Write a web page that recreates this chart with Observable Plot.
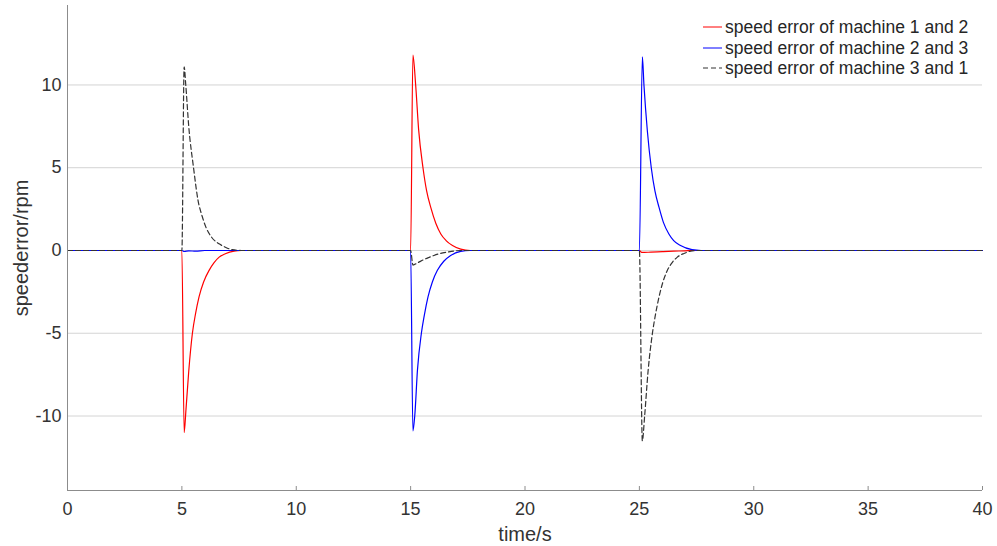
<!DOCTYPE html>
<html><head><meta charset="utf-8">
<script src="https://cdn.jsdelivr.net/npm/d3@7"></script>
<script src="https://cdn.jsdelivr.net/npm/@observablehq/plot@0.6"></script>
<style>
body{margin:0;background:#fff;}
#wrap{position:relative;width:997px;height:546px;font-family:"Liberation Sans",Arial,sans-serif;}
#legend{position:absolute;left:703px;top:17px;font-size:17.5px;line-height:20.5px;color:#262626;}
.row{display:flex;align-items:center;white-space:nowrap;height:20.5px;}
.row svg{margin-right:3px;flex:none;}
</style></head><body><div id="wrap"><div id="chart"></div><div id="legend"></div></div>
<script>
const seriesNames = ["speed error of machine 1 and 2", "speed error of machine 2 and 3", "speed error of machine 3 and 1"];
const seriesColors = ["#ff0000", "#0000ff", "#333333"];
const seriesDash = [null, null, "5,3"];

// machine 1 and 2
const t12 = [0, 5.0, 5.1, 5.18, 5.3, 5.46, 5.6, 5.75, 5.95, 6.19, 6.4, 6.63, 6.9, 7.28, 7.6,
  15.0, 15.1, 15.22, 15.35, 15.54, 15.7, 15.88, 16.1, 16.32, 16.55, 16.83, 17.19, 17.6,
  25.0, 25.1, 25.5, 26.0, 26.5, 27.0, 27.3, 40];
const v12 = [0, 0, -11.0, -9.6, -7.3, -5.0, -3.8, -2.8, -1.9, -1.2, -0.75, -0.4, -0.2, -0.04, 0,
  0, 11.8, 10.0, 7.3, 5.0, 3.6, 2.6, 1.65, 1.0, 0.6, 0.3, 0.08, 0,
  0, -0.12, -0.1, -0.07, -0.04, -0.02, 0, 0];

// machine 2 and 3
const t23 = [0, 5.0, 5.1, 5.3, 5.6, 6.0,
  15.0, 15.1, 15.18, 15.3, 15.47, 15.6, 15.76, 15.95, 16.17, 16.45, 16.75, 17.19, 17.6,
  25.0, 25.13, 25.2, 25.35, 25.52, 25.68, 25.86, 26.05, 26.29, 26.5, 26.8, 27.3, 27.7, 40];
const v23 = [0, 0, -0.06, -0.02, -0.04, 0,
  0, -10.9, -10.0, -7.2, -5.0, -3.9, -2.8, -1.9, -1.2, -0.65, -0.3, -0.05, 0,
  0, 11.7, 10.0, 7.2, 5.0, 3.6, 2.6, 1.7, 1.0, 0.6, 0.3, 0.05, 0, 0];

// machine 3 and 1
const t31 = [0, 5.0, 5.1, 5.17, 5.3, 5.51, 5.71, 5.88, 6.05, 6.3, 6.63, 6.9, 7.2, 7.6,
  15.0, 15.1, 15.3, 15.58, 15.8, 16.02, 16.3, 16.6, 17.2,
  25.0, 25.13, 25.23, 25.38, 25.57, 25.7, 25.86, 26.03, 26.22, 26.45, 26.66, 26.95, 27.24, 27.6, 40];
const v31 = [0, 0, 11.1, 10.0, 7.5, 5.0, 3.0, 2.1, 1.41, 0.8, 0.4, 0.2, 0.05, 0,
  0, -0.88, -0.75, -0.55, -0.42, -0.3, -0.18, -0.1, 0,
  0, -11.5, -10.0, -7.3, -5.0, -3.9, -2.8, -1.9, -1.21, -0.7, -0.4, -0.18, -0.04, 0, 0];

const xTicks = [0, 5, 10, 15, 20, 25, 30, 35, 40];
const yTicks = [-10, -5, 0, 5, 10];
const xDomain = [0, 40];
const yDomain = [-14.5, 14.8];
const xLabel = "time/s";
const yLabel = "speederror/rpm";

const toRows = (ts, vs, k) => ts.map((t, i) => ({t, v: vs[i], s: seriesNames[k]}));
const series = [toRows(t12, v12, 0), toRows(t23, v23, 1), toRows(t31, v31, 2)];

const textColor = "#333333";
const chart = Plot.plot({
  width: 997, height: 546,
  marginLeft: 67, marginRight: 15, marginTop: 5, marginBottom: 56,
  style: {fontFamily: '"Liberation Sans", Arial, sans-serif', background: "#fff", overflow: "visible"},
  x: {domain: xDomain},
  y: {domain: yDomain},
  marks: [
    Plot.ruleY(yTicks, {stroke: "#d4d4d4", strokeWidth: 1}),
    ...series.map((rows, k) => Plot.line(rows, {
      x: "t", y: "v", stroke: seriesColors[k], strokeWidth: 1.2,
      strokeDasharray: seriesDash[k], curve: "monotone-x"
    })),
    Plot.ruleX([xDomain[0]], {stroke: "#8c8c8c", strokeWidth: 1}),
    Plot.ruleY([yDomain[0]], {stroke: "#8c8c8c", strokeWidth: 1}),
    Plot.axisX(xTicks, {tickSize: 0, tickPadding: 12, fontSize: 18, fill: textColor, label: null, tickFormat: d => String(d)}),
    Plot.axisX(xTicks, {tickSize: 4, dy: -4, tickFormat: () => "", stroke: "#8c8c8c", label: null}),
    Plot.axisY(yTicks, {tickSize: 0, tickPadding: 6, fontSize: 18, fill: textColor, label: null, tickFormat: d => String(d)}),
    Plot.text([xLabel], {text: d => d, frameAnchor: "bottom", dy: 50, lineAnchor: "bottom", textAnchor: "middle", fontSize: 20, fill: textColor}),
    Plot.text([yLabel], {text: d => d, frameAnchor: "left", dx: -54, rotate: -90, lineAnchor: "top", textAnchor: "middle", fontSize: 20, fill: textColor})
  ]
});
document.getElementById("chart").appendChild(chart);

const legend = document.getElementById("legend");
seriesNames.forEach((name, k) => {
  const row = document.createElement("div");
  row.className = "row";
  row.innerHTML = `<svg width="19" height="4"><line x1="0" x2="19" y1="2" y2="2" stroke="${seriesColors[k]}" stroke-width="1" ${seriesDash[k] ? `stroke-dasharray="${seriesDash[k]}"` : ""}/></svg><span>${name}</span>`;
  legend.appendChild(row);
});
</script>
</body></html>
